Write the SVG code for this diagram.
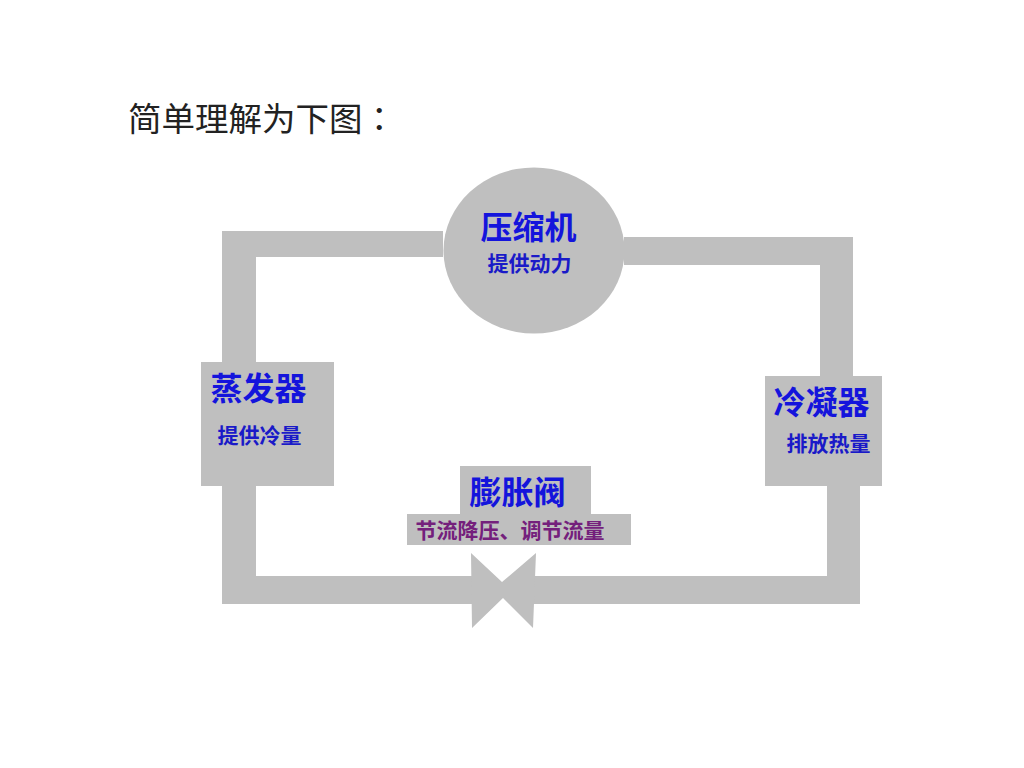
<svg xmlns="http://www.w3.org/2000/svg" width="1024" height="768" viewBox="0 0 1024 768">
<style>
.s{fill:#bfbfbf}
text{font-family:"Noto Sans CJK SC","Noto Sans",sans-serif}
.t{fill:#1414dc;font-size:32px;font-weight:700;text-anchor:middle}
.u{fill:#1a1ac8;font-size:21px;font-weight:700;text-anchor:middle}
.v{fill:#74207c;font-size:21px;font-weight:700;text-anchor:middle}
</style>
<rect width="1024" height="768" fill="#fff"/>
<text x="128" y="131" font-size="33.500" fill="#222">简单理解为下图<tspan font-family="'Noto Sans CJK TC',sans-serif">：</tspan></text>
<g id="connectors" class="s">
<path d="M443 231H222V362H256V257H443Z"/>
<path d="M624 237H853V376H820V265H624Z"/>
<path d="M222 486H256V576H480V604H222Z"/>
<path d="M827 486H860V604H525V576H827Z"/>
</g>
<g id="compressor">
<ellipse class="s" cx="534" cy="250.500" rx="90.500" ry="83"/>
<text class="t" x="528.500" y="239">压缩机</text>
<text class="u" x="529.500" y="271">提供动力</text>
</g>
<g id="evaporator">
<rect class="s" x="201" y="362" width="133" height="124"/>
<text class="t" x="258.500" y="400">蒸发器</text>
<text class="u" x="259.500" y="443">提供冷量</text>
</g>
<g id="condenser">
<rect class="s" x="765" y="376" width="117" height="110"/>
<text class="t" x="821.500" y="414">冷凝器</text>
<text class="u" x="828.500" y="451">排放热量</text>
</g>
<g id="expansion-valve">
<path class="s" d="M460 466H591V514H631V545H407V514H460Z"/>
<path class="s" d="M471 553L502 582L536 553L533 628L503 598L472 628Z"/>
<text class="t" x="517.500" y="504">膨胀阀</text>
<text class="v" x="510" y="538">节流降压、调节流量</text>
</g>
</svg>
